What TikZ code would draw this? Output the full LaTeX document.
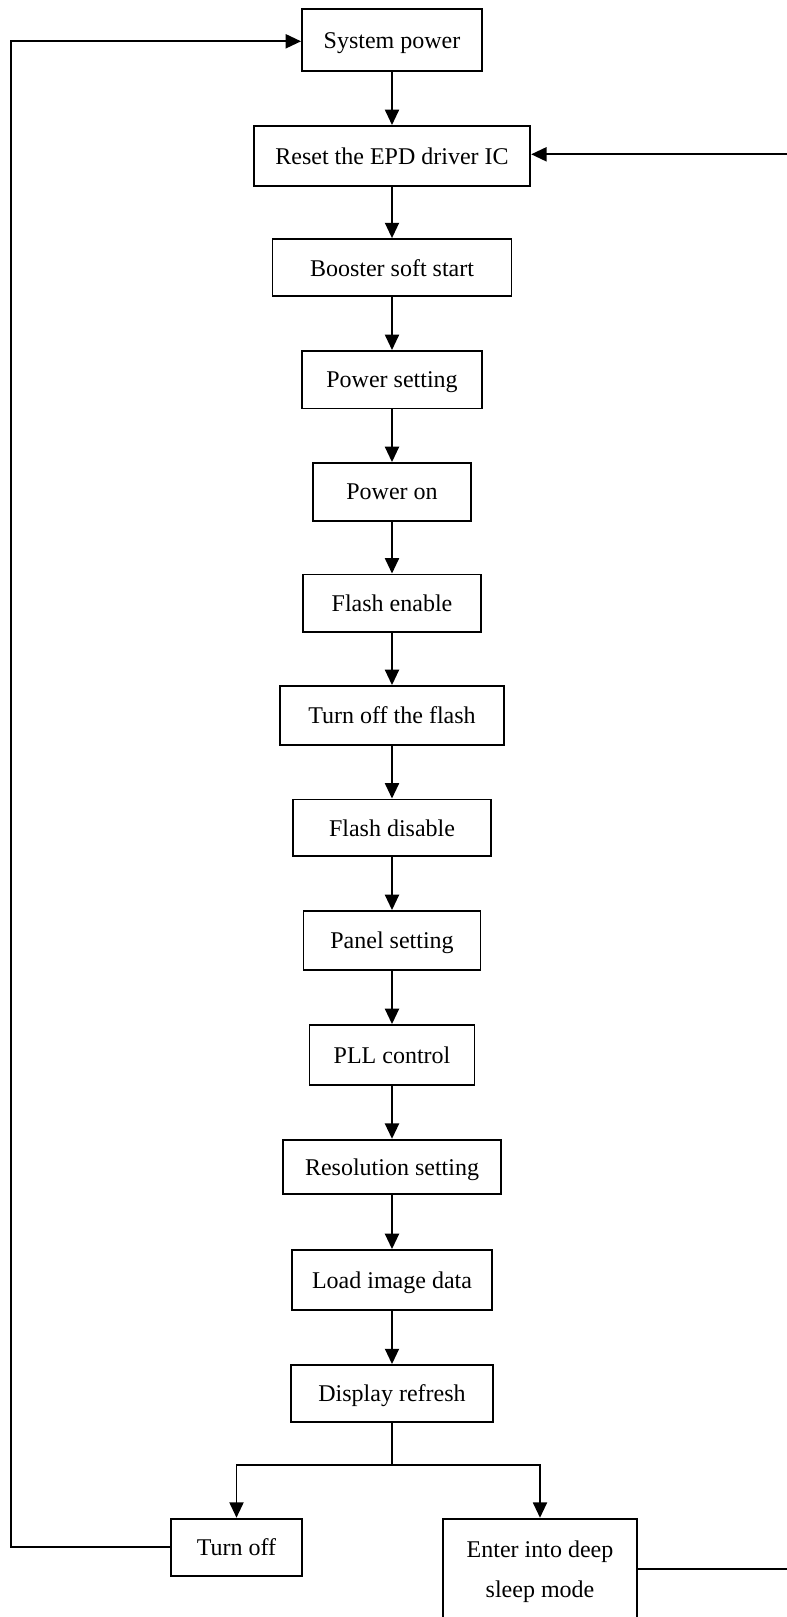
\documentclass[tikz,border=0pt]{standalone}
\usepackage{fontspec}
\setmainfont{Liberation Serif}
\usetikzlibrary{arrows.meta}
\begin{document}
\begin{tikzpicture}[x=0.75pt,y=-0.75pt,
  box/.style={draw,line width=1.4pt,rectangle,inner sep=0pt,text depth=0pt,font=\fontsize{18}{30}\selectfont,align=center},
  conn/.style={line width=1.4pt},
  arr/.style={conn,-{Triangle[length=11.5pt,width=10.5pt]}}]
\useasboundingbox (0,0) rectangle (787,1617);
\clip (0,0) rectangle (787,1617);
\node[box,minimum width=180*0.75pt,minimum height=62*0.75pt] (sys) at (392,40.2) {System power};
\node[box,minimum width=276.5*0.75pt,minimum height=59.7*0.75pt] (reset) at (392,155.8) {Reset the EPD driver IC};
\node[box,minimum width=239*0.75pt,minimum height=57.3*0.75pt] (boost) at (392,267.7) {Booster soft start};
\node[box,minimum width=180*0.75pt,minimum height=57.5*0.75pt] (pset) at (392,379.7) {Power setting};
\node[box,minimum width=157.5*0.75pt,minimum height=58*0.75pt] (pon) at (392,492) {Power on};
\node[box,minimum width=178*0.75pt,minimum height=57.5*0.75pt] (fen) at (392,603.2) {Flash enable};
\node[box,minimum width=224.5*0.75pt,minimum height=59*0.75pt] (foff) at (392,715.5) {Turn off the flash};
\node[box,minimum width=198*0.75pt,minimum height=56.5*0.75pt] (fdis) at (392,827.7) {Flash disable};
\node[box,minimum width=177*0.75pt,minimum height=59*0.75pt] (panel) at (392,940.5) {Panel setting};
\node[box,minimum width=165*0.75pt,minimum height=60*0.75pt] (pll) at (392,1055) {PLL control};
\node[box,minimum width=218.3*0.75pt,minimum height=54.5*0.75pt] (res) at (392,1167) {Resolution setting};
\node[box,minimum width=200*0.75pt,minimum height=60*0.75pt] (load) at (392,1280) {Load image data};
\node[box,minimum width=202*0.75pt,minimum height=57*0.75pt] (disp) at (392,1393.5) {Display refresh};
\node[box,minimum width=131*0.75pt,minimum height=57.3*0.75pt] (toff) at (236.5,1547.3) {Turn off};
\node[box,minimum width=194.7*0.75pt,minimum height=100.6*0.75pt] (sleep) at (540,1569) {Enter into deep\\sleep mode};
\coordinate (br) at (392,1464.7);
\coordinate (L) at (11.3,41.3);
\coordinate (R) at (800,154.3);
\draw[arr] (sys) -- (reset);
\draw[arr] (reset) -- (boost);
\draw[arr] (boost) -- (pset);
\draw[arr] (pset) -- (pon);
\draw[arr] (pon) -- (fen);
\draw[arr] (fen) -- (foff);
\draw[arr] (foff) -- (fdis);
\draw[arr] (fdis) -- (panel);
\draw[arr] (panel) -- (pll);
\draw[arr] (pll) -- (res);
\draw[arr] (res) -- (load);
\draw[arr] (load) -- (disp);
\draw[conn] (disp.south) -- (br);
\draw[arr] (br) -| (toff.north);
\draw[arr] (br) -| (sleep.north);
\draw[arr] (toff.west) -| (L) -- (L -| sys.west);
\draw[conn] (sleep.east) -| (R);
\draw[arr] (R) -- (R -| reset.east);
\end{tikzpicture}
\end{document}
